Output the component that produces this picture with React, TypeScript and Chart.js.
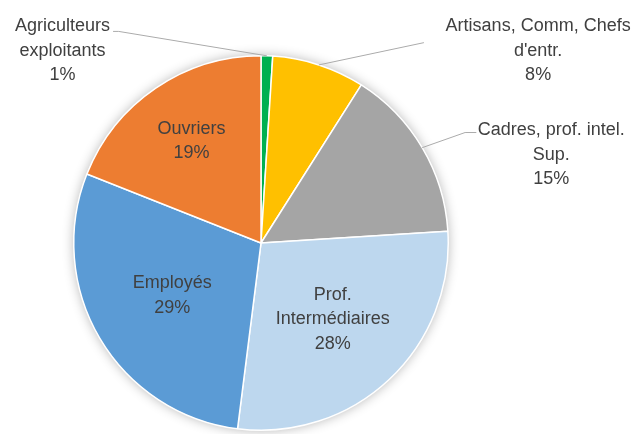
import React, { useEffect, useRef } from "react";
import { Chart, registerables } from "chart.js";

Chart.register(...registerables);

// Répartition par catégorie socioprofessionnelle (en %)
const categories: string[][] = [
  ["Agriculteurs", "exploitants"],
  ["Artisans, Comm, Chefs", "d'entr."],
  ["Cadres, prof. intel.", "Sup."],
  ["Prof.", "Intermédiaires"],
  ["Employés"],
  ["Ouvriers"],
];
const shares: number[] = [1, 8, 15, 28, 29, 19];
const sliceColors: string[] = ["#00B050", "#FFC000", "#A5A5A5", "#BDD7EE", "#5B9BD5", "#ED7D31"];

const TEXT_COLOR = "#404040";
const FONT = "18px 'Liberation Sans', Arial, sans-serif";
const LINE_H = 24.5;

// Label placement, expressed in units of the pie radius.
// inside: distance along the slice bisector; outside: label centre offset from the pie centre
// plus the elbow of the leader line.
type Placement =
  | { kind: "inside"; k: number; dx?: number }
  | { kind: "outside"; dx: number; dy: number; elbow: [number, number]; end: [number, number] };

const placements: Placement[] = [
  { kind: "outside", dx: -1.06, dy: -1.027, elbow: [-0.76, -1.13], end: [-0.79, -1.13] },
  { kind: "outside", dx: 1.48, dy: -1.027, elbow: [0.87, -1.07], end: [0.87, -1.07] },
  { kind: "outside", dx: 1.55, dy: -0.47, elbow: [1.09, -0.59], end: [1.15, -0.59] },
  { kind: "inside", k: 0.56 },
  { kind: "inside", k: 0.55 },
  { kind: "inside", k: 0.66 },
];

const shadowPlugin = {
  id: "pieShadow",
  beforeDatasetsDraw(chart: any) {
    const arc = chart.getDatasetMeta(0).data[0];
    if (!arc) return;
    const { x, y, outerRadius } = arc.getProps(["x", "y", "outerRadius"], true);
    const ctx = chart.ctx;
    ctx.save();
    ctx.shadowColor = "rgba(0,0,0,0.3)";
    ctx.shadowBlur = 12;
    ctx.fillStyle = "#ffffff";
    ctx.beginPath();
    ctx.arc(x, y, outerRadius, 0, Math.PI * 2);
    ctx.fill();
    ctx.restore();
  },
};

const labelPlugin = {
  id: "sliceLabels",
  afterDatasetsDraw(chart: any) {
    const ctx = chart.ctx;
    const meta = chart.getDatasetMeta(0);
    ctx.save();
    ctx.font = FONT;
    ctx.fillStyle = TEXT_COLOR;
    ctx.textAlign = "center";
    ctx.textBaseline = "middle";
    meta.data.forEach((el: any, i: number) => {
      const { x, y, startAngle, endAngle, outerRadius } = el.getProps(
        ["x", "y", "startAngle", "endAngle", "outerRadius"],
        true
      );
      const r = outerRadius;
      const mid = (startAngle + endAngle) / 2;
      const lines = [...categories[i], `${shares[i]}%`];
      const p = placements[i];
      let lx: number;
      let ly: number;
      if (p.kind === "inside") {
        lx = x + Math.cos(mid) * r * p.k;
        ly = y + Math.sin(mid) * r * p.k;
      } else {
        lx = x + p.dx * r;
        ly = y + p.dy * r;
        // leader line from the slice edge to the label
        ctx.save();
        ctx.strokeStyle = "#ABABAB";
        ctx.lineWidth = 1;
        ctx.beginPath();
        ctx.moveTo(x + Math.cos(mid) * r, y + Math.sin(mid) * r);
        ctx.lineTo(x + p.elbow[0] * r, y + p.elbow[1] * r);
        ctx.lineTo(x + p.end[0] * r, y + p.end[1] * r);
        ctx.stroke();
        ctx.restore();
      }
      const top = ly - ((lines.length - 1) * LINE_H) / 2;
      lines.forEach((t, j) => ctx.fillText(t, lx, top + j * LINE_H));
    });
    ctx.restore();
  },
};

export default function App() {
  const ref = useRef<HTMLCanvasElement | null>(null);
  useEffect(() => {
    document.body.style.margin = "0";
    if (!ref.current) return;
    const chart = new Chart(ref.current, {
      type: "pie",
      data: {
        labels: categories.map((c) => c.join(" ")),
        datasets: [
          {
            data: shares,
            backgroundColor: sliceColors,
            borderColor: "#ffffff",
            borderWidth: 1.5,
          },
        ],
      },
      options: {
        responsive: false,
        animation: false,
        layout: { padding: { left: 73, right: 186, top: 55, bottom: 3 } },
        plugins: {
          legend: { display: false },
          tooltip: { enabled: false },
        },
      },
      plugins: [shadowPlugin, labelPlugin],
    });
    return () => chart.destroy();
  }, []);
  return (
    <div style={{ width: 635, height: 434, background: "#ffffff" }}>
      <canvas ref={ref} width={635} height={434} />
    </div>
  );
}
